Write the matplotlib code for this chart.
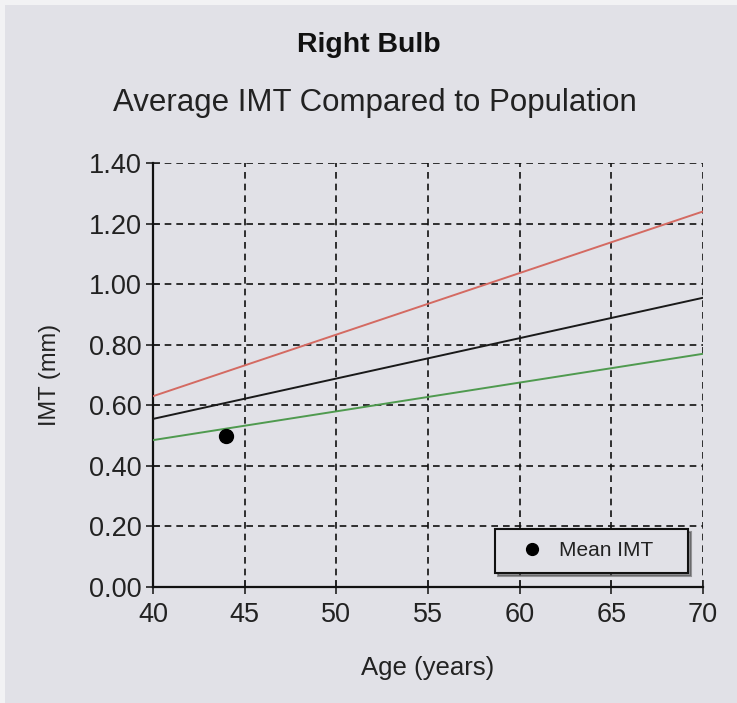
import matplotlib
matplotlib.use("Agg")
import matplotlib.pyplot as plt
from matplotlib.patches import Rectangle

plt.rcParams['font.family'] = ['Liberation Sans', 'DejaVu Sans']

ages = [40, 70]
upper_imt = [0.63, 1.24]      # red
mean_pop_imt = [0.555, 0.955]  # black
lower_imt = [0.485, 0.77]     # green
patient_age = [44]
patient_imt = [0.50]

xticks = [40, 45, 50, 55, 60, 65, 70]
yticks = [0.0, 0.2, 0.4, 0.6, 0.8, 1.0, 1.2, 1.4]

W, H = 737, 703
fig = plt.figure(figsize=(W / 100, H / 100), dpi=100, facecolor='#f2f2f4')
bg = '#e1e1e7'
fig.patches.append(Rectangle((5 / W, 0), 1 - 5 / W, 1 - 5 / H, transform=fig.transFigure,
                             facecolor=bg, edgecolor='none', zorder=-10))

ax = fig.add_axes([153 / W, 1 - 587 / H, 550 / W, 424 / H])
ax.set_facecolor(bg)

ax.plot(ages, upper_imt, color='#d46a62', lw=1.4, zorder=3)
ax.plot(ages, mean_pop_imt, color='#1a1a1a', lw=1.4, zorder=3)
ax.plot(ages, lower_imt, color='#4f9a4f', lw=1.4, zorder=3)
ax.plot(patient_age, patient_imt, 'o', color='black', markersize=10, zorder=4, label='Mean IMT    ')

ax.set_xlim(40, 70)
ax.set_ylim(0, 1.4)
ax.set_xticks(xticks)
ax.set_yticks(yticks)
ax.set_xticklabels([str(v) for v in xticks])
ax.set_yticklabels([f"{v:.2f}" for v in yticks])
ax.tick_params(axis='both', labelsize=19.5, colors='#222222', direction='inout', length=10, width=1.2)
ax.tick_params(axis='x', pad=6)
ax.tick_params(axis='y', pad=3)
ax.grid(True, color='#111111', linestyle=(0, (4, 3)), linewidth=1.2)
ax.set_axisbelow(True)
for s in ['top', 'right']:
    ax.spines[s].set_visible(False)
for s in ['left', 'bottom']:
    ax.spines[s].set_linewidth(1.6)
    ax.spines[s].set_color('#111111')

ax.set_xlabel('Age (years)', fontsize=18.5, color='#222222', labelpad=20)
ax.set_ylabel('IMT (mm)', fontsize=17, color='#222222', labelpad=20)

fig.text(0.5, 1 - 45 / H, 'Right Bulb', ha='center', va='center', fontsize=20.5, fontweight='bold', color='#111111')
fig.text(375 / W, 1 - 103 / H, 'Average IMT Compared to Population', ha='center', va='center', fontsize=22.5, color='#222222')

leg = ax.legend(loc='lower right', bbox_to_anchor=(688 / W, 1 - 573 / H), bbox_transform=fig.transFigure,
                fontsize=15, frameon=True, fancybox=False, shadow=True, markerscale=0.85,
                borderpad=0.6, handlelength=2.3, handletextpad=0.15, borderaxespad=0)
fr = leg.get_frame()
fr.set_edgecolor('#111111')
fr.set_facecolor(bg)
fr.set_linewidth(1.5)
fr.set_alpha(1)
for t in leg.get_texts():
    t.set_color('#222222')

fig.savefig('out.png', dpi=100, facecolor=fig.get_facecolor())
